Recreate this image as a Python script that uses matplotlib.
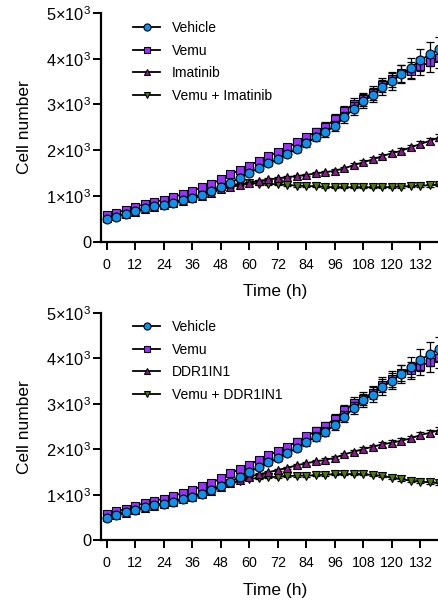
import matplotlib
matplotlib.use('Agg')
import matplotlib.pyplot as plt

plt.rcParams['font.family'] = ['Liberation Sans', 'DejaVu Sans']
plt.rcParams['mathtext.fontset'] = 'custom'
plt.rcParams['mathtext.rm'] = 'Liberation Sans'
plt.rcParams['mathtext.it'] = 'Liberation Sans'

hours = [0, 4, 8, 12, 16, 20, 24, 28, 32, 36, 40, 44, 48, 52, 56, 60, 64, 68,
         72, 76, 80, 84, 88, 92, 96, 100, 104, 108, 112, 116, 120, 124, 128, 132, 136, 140]

vehicle = [500, 550, 615, 670, 728, 778, 805, 853, 910, 962, 1025, 1110, 1203, 1290, 1400, 1509, 1605, 1714,
           1801, 1917, 2030, 2155, 2282, 2391, 2537, 2720, 2908, 3076, 3207, 3375, 3507, 3666, 3804, 3966, 4097, 4213]
vehicle_sd = [15, 15, 18, 18, 20, 20, 22, 25, 25, 28, 30, 32, 35, 38, 40, 45, 50, 55,
              60, 65, 70, 80, 90, 100, 110, 120, 140, 150, 160, 170, 180, 200, 220, 240, 260, 270]

vemu = [584, 634, 693, 765, 818, 875, 912, 984, 1036, 1115, 1185, 1262, 1364, 1473, 1568, 1662, 1771, 1880,
        1954, 2060, 2170, 2285, 2405, 2514, 2676, 2857, 3017, 3113, 3250, 3426, 3550, 3682, 3739, 3841, 3922, 4010]
vemu_sd = [15, 15, 18, 18, 20, 20, 22, 25, 25, 28, 30, 32, 35, 38, 40, 45, 50, 55,
           60, 65, 70, 75, 85, 95, 105, 115, 130, 140, 150, 160, 170, 180, 190, 200, 210, 220]

imatinib = [520, 560, 610, 660, 710, 760, 800, 850, 900, 950, 1010, 1070, 1145, 1189, 1240, 1290, 1330, 1360,
            1386, 1408, 1436, 1459, 1495, 1517, 1553, 1604, 1677, 1736, 1801, 1874, 1933, 1990, 2064, 2136, 2208, 2282]
imatinib_sd = [10, 10, 12, 12, 14, 14, 15, 15, 16, 16, 18, 18, 20, 20, 22, 22, 24, 24,
               25, 26, 28, 30, 32, 34, 36, 38, 40, 42, 45, 48, 50, 55, 60, 65, 70, 75]

vemu_imatinib = [520, 560, 610, 660, 710, 760, 800, 850, 900, 950, 1010, 1080, 1160, 1220, 1265, 1277, 1270, 1262,
                 1255, 1240, 1225, 1218, 1210, 1195, 1190, 1189, 1189, 1189, 1189, 1190, 1195, 1203, 1215, 1225, 1233, 1247]
vemu_imatinib_sd = [10, 10, 12, 12, 14, 14, 15, 15, 16, 16, 18, 18, 20, 20, 22, 22, 22, 22,
                    22, 22, 22, 22, 22, 22, 22, 22, 22, 22, 24, 24, 25, 26, 28, 30, 32, 34]

ddr1in1 = [520, 560, 610, 660, 710, 760, 800, 850, 900, 950, 1010, 1090, 1180, 1254, 1326, 1399, 1452, 1496,
           1546, 1597, 1650, 1694, 1737, 1766, 1817, 1891, 1949, 2008, 2059, 2111, 2147, 2191, 2244, 2316, 2367, 2426]
ddr1in1_sd = [10, 10, 12, 12, 14, 14, 15, 15, 16, 16, 18, 18, 20, 20, 22, 22, 24, 24,
              25, 26, 28, 30, 32, 34, 36, 38, 40, 42, 45, 48, 50, 55, 60, 65, 70, 75]

vemu_ddr1in1 = [520, 560, 610, 660, 710, 760, 800, 850, 900, 950, 1010, 1085, 1180, 1250, 1310, 1345, 1377, 1384,
                1399, 1414, 1421, 1421, 1432, 1445, 1452, 1452, 1459, 1452, 1436, 1414, 1377, 1341, 1311, 1289, 1275, 1254]
vemu_ddr1in1_sd = [10, 10, 12, 12, 14, 14, 15, 15, 16, 16, 18, 18, 20, 20, 22, 22, 22, 22,
                   22, 22, 22, 22, 22, 22, 22, 22, 22, 22, 24, 24, 25, 26, 28, 30, 32, 34]

x_ticks = [0, 12, 24, 36, 48, 60, 72, 84, 96, 108, 120, 132]
y_ticks = [0, 1000, 2000, 3000, 4000, 5000]
y_tick_labels = ['0', '1×10$^3$', '2×10$^3$', '3×10$^3$', '4×10$^3$', '5×10$^3$']

COLORS = ['#0a92ec', '#9b30ff', '#8b1a8b', '#4a7d00']
MARKERS = ['o', 's', '^', 'v']
SIZES = [6.4, 5.8, 6.2, 6.2]


def draw_panel(ax, series, labels, legend_top):
    # draw the inhibitor curves first so Vehicle / Vemu sit on top
    for i in [3, 2, 1, 0]:
        vals, sd = series[i]
        z = 10 - i * 2
        ax.errorbar(hours, vals, yerr=sd, fmt='none', ecolor='black', elinewidth=0.9,
                    capsize=3, capthick=0.9, zorder=z, clip_on=False)
        ax.plot(hours, vals, color='black', linewidth=1.3, marker=MARKERS[i], markersize=SIZES[i],
                markerfacecolor=COLORS[i], markeredgecolor='black', markeredgewidth=0.8,
                label=labels[i], zorder=z + 1, clip_on=False)

    ax.set_xlim(-2.4, 144)
    ax.set_ylim(0, 5000)
    ax.set_xticks(x_ticks)
    ax.set_yticks(y_ticks)
    ax.set_yticklabels(y_tick_labels)
    ax.spines['top'].set_visible(False)
    ax.spines['right'].set_visible(False)
    for s in ['left', 'bottom']:
        ax.spines[s].set_linewidth(1.6)
    ax.tick_params(axis='both', length=5.5, width=1.4, direction='out')
    ax.tick_params(axis='x', labelsize=10.3, pad=6)
    ax.tick_params(axis='y', labelsize=11.8, pad=1.5)
    ax.set_xlabel('Time (h)', fontsize=12.5, labelpad=9)
    ax.set_ylabel('Cell number', fontsize=12.5, labelpad=10)

    handles, labs = ax.get_legend_handles_labels()
    order = [labs.index(l) for l in labels]
    ax.legend([handles[k] for k in order], labels, loc='upper left',
              bbox_to_anchor=(133 / 439, 1 - legend_top / 606), bbox_transform=plt.gcf().transFigure,
              frameon=False, fontsize=10, borderpad=0, borderaxespad=0, markerscale=0.8,
              handlelength=1.95, handletextpad=0.85, labelspacing=0.62)


fig = plt.figure(figsize=(4.39, 6.06), dpi=100)
ax1 = fig.add_axes([101 / 439, 1 - 241.7 / 606, 348 / 439, 228.7 / 606])
ax2 = fig.add_axes([101 / 439, 1 - 540.3 / 606, 348 / 439, 227.3 / 606])

draw_panel(ax1, [(vehicle, vehicle_sd), (vemu, vemu_sd), (imatinib, imatinib_sd),
                 (vemu_imatinib, vemu_imatinib_sd)],
           ['Vehicle', 'Vemu', 'Imatinib', 'Vemu + Imatinib'], 21)
draw_panel(ax2, [(vehicle, vehicle_sd), (vemu, vemu_sd), (ddr1in1, ddr1in1_sd),
                 (vemu_ddr1in1, vemu_ddr1in1_sd)],
           ['Vehicle', 'Vemu', 'DDR1IN1', 'Vemu + DDR1IN1'], 320)

fig.savefig('out.png', dpi=100)
plt.close(fig)
